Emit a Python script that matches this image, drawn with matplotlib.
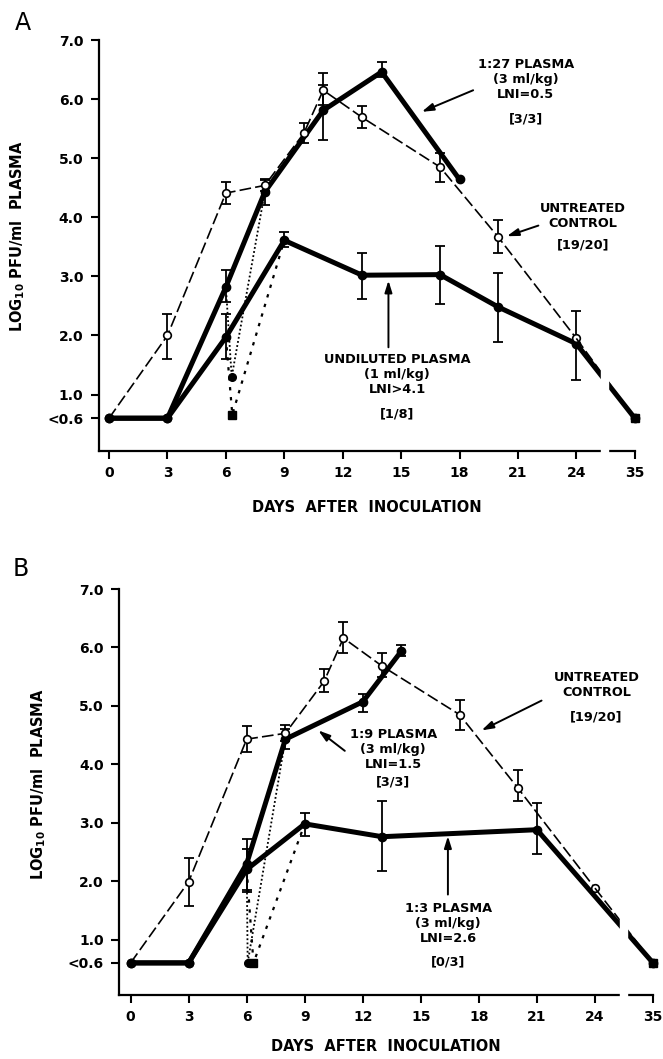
import numpy as np
import matplotlib
matplotlib.use("Agg")
import matplotlib.pyplot as plt

plt.rcParams['font.family'] = ['DejaVu Sans']
plt.rcParams['font.weight'] = 'bold'

nan = np.nan

# ---- panel A data (days, log10 PFU/ml, error bar top / bottom) ----
ctl_days = [0, 3, 6, 8, 10, 11, 13, 17, 20, 24, 35]
ctl_A = [0.6, 2.0, 4.41, 4.54, 5.42, 6.15, 5.69, 4.85, 3.66, 1.95, 0.6]
ctl_A_hi = [nan, 2.36, 4.6, 4.63, 5.59, 6.45, 5.88, 5.09, 3.95, nan, nan]
ctl_A_lo = [nan, 1.6, 4.22, 4.45, 5.25, 5.9, 5.51, 4.6, 3.39, nan, nan]

p27_days = [0, 3, 6, 8, 11, 14, 18]
p27_A = [0.6, 0.6, 2.82, 4.43, 5.81, 6.46, 4.64]
p27_A_hi = [nan, nan, 3.1, 4.65, 6.24, 6.63, nan]
p27_A_lo = [nan, nan, 2.56, 4.2, 5.3, 6.38, nan]

und_days = [0, 3, 6, 9, 13, 17, 20, 24, 35]
und_A = [0.6, 0.6, 1.97, 3.61, 3.02, 3.03, 2.48, 1.86, 0.6]
und_A_hi = [nan, nan, 2.37, 3.75, 3.4, 3.51, 3.06, 2.42, nan]
und_A_lo = [nan, nan, 1.6, 3.5, 2.62, 2.54, 1.89, 1.25, nan]

# dips of individual animals (dotted)
dipA_fine_days = [6, 6.3, 8]
dipA_fine = [2.82, 1.3, 4.43]
dipA_coarse_days = [6, 6.33, 9]
dipA_coarse = [1.97, 0.66, 3.61]

# ---- panel B data ----
ctl_B = [0.6, 1.99, 4.43, 4.53, 5.42, 6.16, 5.68, 4.85, 3.6, 1.88, 0.6]
ctl_B_hi = [nan, 2.39, 4.65, 4.68, 5.63, 6.44, 5.9, 5.1, 3.9, nan, nan]
ctl_B_lo = [nan, 1.58, 4.21, 4.4, 5.24, 5.9, 5.5, 4.59, 3.37, nan, nan]

p9_days = [0, 3, 6, 8, 12, 14]
p9_B = [0.6, 0.6, 2.3, 4.43, 5.07, 5.94]
p9_B_hi = [nan, nan, 2.72, 4.6, 5.21, 6.04]
p9_B_lo = [nan, nan, 1.85, 4.27, 4.89, 5.85]

p3_days = [0, 3, 6, 9, 13, 21, 35]
p3_B = [0.6, 0.6, 2.2, 2.98, 2.76, 2.88, 0.6]
p3_B_hi = [nan, nan, 2.55, 3.17, 3.37, 3.33, nan]
p3_B_lo = [nan, nan, 1.82, 2.78, 2.17, 2.47, nan]

dipB_fine_days = [6, 6.05, 8]
dipB_fine = [2.3, 0.6, 4.43]
dipB_coarse_days = [6, 6.35, 9]
dipB_coarse = [2.2, 0.6, 2.98]

xtick_days = [0, 3, 6, 9, 12, 15, 18, 21, 24, 35]
ytick_vals = [0.6, 1, 2, 3, 4, 5, 6, 7]
ytick_labels = ['<0.6', '1.0', '2.0', '3.0', '4.0', '5.0', '6.0', '7.0']


def xpos(d):
    # day 35 sits one tick step after 24 (broken axis)
    d = np.asarray(d, dtype=float)
    return np.where(d == 35, 27.0, d)


def errbars(ax, days, vals, hi, lo):
    x = xpos(days)
    v = np.asarray(vals)
    hi = np.asarray(hi)
    lo = np.asarray(lo)
    m = ~np.isnan(hi)
    ax.errorbar(x[m], v[m], yerr=[v[m] - lo[m], hi[m] - v[m]], fmt='none',
                ecolor='black', elinewidth=1.3, capsize=3.5, capthick=1.3, zorder=3)


def thick(ax, days, vals, hi, lo):
    errbars(ax, days, vals, hi, lo)
    x = xpos(days)
    ax.plot(x, vals, '-', color='black', lw=3.6, marker='o', ms=6,
            zorder=4, clip_on=False, solid_capstyle='round')
    if days[-1] == 35:
        ax.plot(x[-1:], vals[-1:], 's', color='black', ms=6, zorder=5, clip_on=False)


def control(ax, vals, hi, lo):
    errbars(ax, ctl_days, vals, hi, lo)
    x = xpos(ctl_days)
    ax.plot(x[:-1], vals[:-1], color='black', lw=1.2, dashes=(7, 2.5),
            marker='o', ms=5.5, mfc='white', mec='black', mew=1.2, zorder=6,
            markevery=list(range(1, len(x) - 1)))
    ax.plot(x[-2:], vals[-2:], color='black', lw=1.2, dashes=(7, 2.5), zorder=6, clip_on=False)


def dips(ax, fdays, fvals, cdays, cvals):
    ax.plot(fdays, fvals, color='black', lw=1.3, ls=(0, (1, 1.3)), zorder=2)
    ax.plot(fdays[1:2], fvals[1:2], 'o', color='black', ms=5.5, zorder=5)
    ax.plot(cdays, cvals, color='black', lw=1.6, ls=(0, (1.5, 3)), zorder=2)
    ax.plot(cdays[1:2], cvals[1:2], 's', color='black', ms=5.5, zorder=5)


def style(ax, xmin, label_y, xlabel_y):
    ax.set_xlim(xmin, 27.0)
    ax.set_ylim(0.05, 7.0)
    ax.spines['top'].set_visible(False)
    ax.spines['right'].set_visible(False)
    ax.spines['left'].set_linewidth(1.6)
    ax.spines['bottom'].set_linewidth(1.6)
    ax.set_xticks(xpos(xtick_days))
    ax.set_xticklabels([str(d) for d in xtick_days])
    ax.set_yticks(ytick_vals)
    ax.set_yticklabels(ytick_labels)
    ax.tick_params(direction='out', length=6, width=1.5, labelsize=10, pad=5)
    ax.set_ylabel(r'LOG$_{\mathbf{10}}$ PFU/ml  PLASMA', fontsize=10.5, fontweight='bold')
    ax.yaxis.set_label_coords(-0.133, label_y)
    ax.set_xlabel('DAYS  AFTER  INOCULATION', fontsize=10.5, fontweight='bold', va='top')
    ax.xaxis.set_label_coords(0.5, xlabel_y)
    # axis break between 24 and 35
    ax.axvspan(25.27, 25.64, ymin=-0.03, ymax=1, color='white', zorder=20, clip_on=False)


def note(ax, x, y, text, fs=9.3):
    ax.text(x, y, text, ha='center', va='center', fontsize=fs, fontweight='bold',
            linespacing=1.2, zorder=21)


def arrow(ax, tail, head):
    ax.annotate('', xy=head, xytext=tail,
                arrowprops=dict(arrowstyle='-|>,head_length=0.7,head_width=0.22',
                                color='black', lw=1.4, shrinkA=0, shrinkB=0), zorder=21)


fig = plt.figure(figsize=(6.63, 10.59), dpi=100)

# ---------------- A ----------------
axA = fig.add_axes([0.1489, 0.5744, 0.8085, 0.3878])
control(axA, ctl_A, ctl_A_hi, ctl_A_lo)
thick(axA, p27_days, p27_A, p27_A_hi, p27_A_lo)
thick(axA, und_days, und_A, und_A_hi, und_A_lo)
dips(axA, dipA_fine_days, dipA_fine, dipA_coarse_days, dipA_coarse)
style(axA, -0.53, 0.523, -0.12)

note(axA, 21.4, 6.33, '1:27 PLASMA\n(3 ml/kg)\nLNI=0.5')
note(axA, 21.4, 5.66, '[3/3]')
arrow(axA, (18.7, 6.15), (16.06, 5.785))
note(axA, 24.35, 4.03, 'UNTREATED\nCONTROL')
note(axA, 24.35, 3.53, '[19/20]')
arrow(axA, (22.05, 3.86), (20.43, 3.68))
note(axA, 14.8, 1.34, 'UNDILUTED PLASMA\n(1 ml/kg)\nLNI>4.1')
note(axA, 14.8, 0.68, '[1/8]')
arrow(axA, (14.35, 1.8), (14.35, 2.93))

fig.text(0.035, 0.978, 'A', fontsize=17, fontweight='normal', ha='center', va='center')

# ---------------- B ----------------
axB = fig.add_axes([0.1795, 0.0604, 0.8054, 0.3834])
control(axB, ctl_B, ctl_B_hi, ctl_B_lo)
thick(axB, p9_days, p9_B, p9_B_hi, p9_B_lo)
thick(axB, p3_days, p3_B, p3_B_hi, p3_B_lo)
dips(axB, dipB_fine_days, dipB_fine, dipB_coarse_days, dipB_coarse)
style(axB, -0.6, 0.52, -0.108)

note(axB, 24.08, 5.35, 'UNTREATED\nCONTROL')
note(axB, 24.08, 4.81, '[19/20]')
arrow(axB, (21.24, 5.09), (18.14, 4.58))
note(axB, 13.57, 4.26, '1:9 PLASMA\n(3 ml/kg)\nLNI=1.5')
note(axB, 13.57, 3.69, '[3/3]')
arrow(axB, (11.07, 4.23), (9.7, 4.58))
note(axB, 16.41, 1.28, '1:3 PLASMA\n(3 ml/kg)\nLNI=2.6')
note(axB, 16.41, 0.61, '[0/3]')
arrow(axB, (16.4, 1.77), (16.4, 2.77))

fig.text(0.032, 0.463, 'B', fontsize=17, fontweight='normal', ha='center', va='center')

fig.savefig('out.png', dpi=100)
